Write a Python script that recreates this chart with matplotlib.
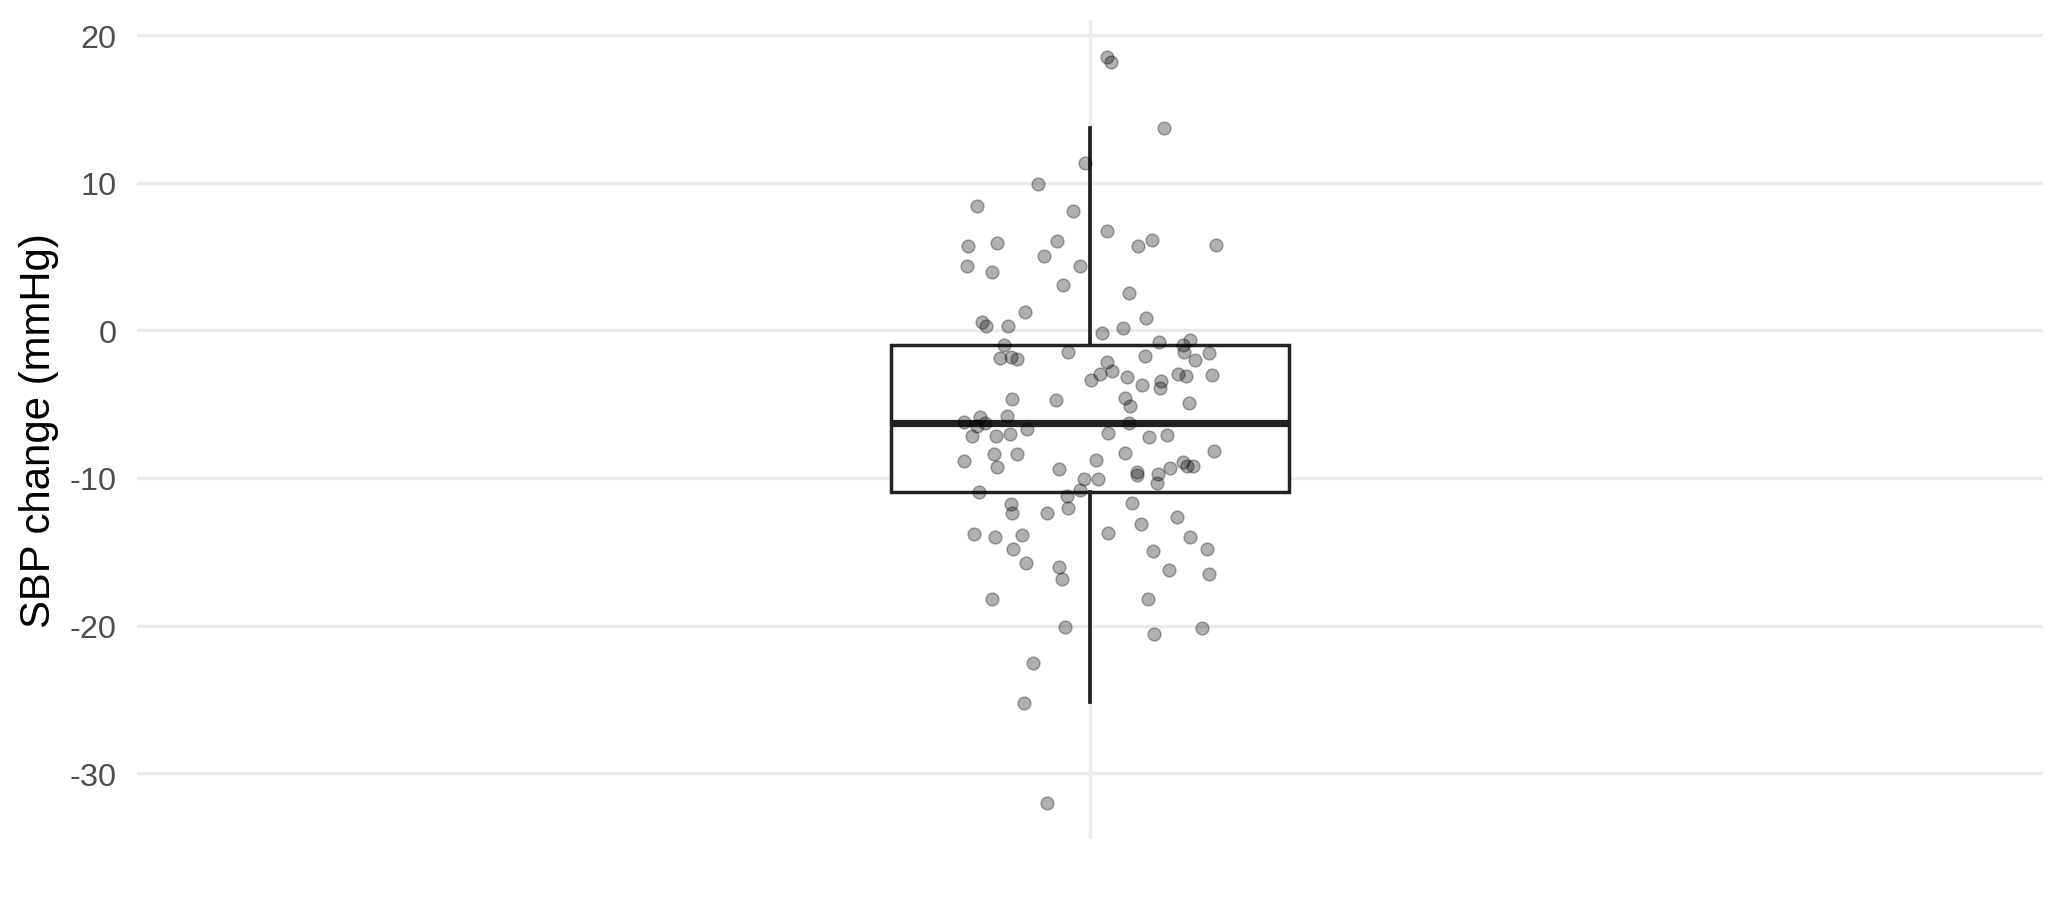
import matplotlib
matplotlib.use("Agg")
import matplotlib.pyplot as plt

plt.rcParams["font.family"] = ["Liberation Sans", "DejaVu Sans"]
plt.rcParams["axes.unicode_minus"] = False

# jittered horizontal offsets (category units) and SBP change values (mmHg)
jitter = [
    0.0109, 0.0130, 0.0468, -0.0030, -0.0325, -0.0713, -0.0109, -0.0768, -0.0583, -0.0208,
    0.0107, 0.0300, 0.0388, 0.0795, -0.0774, -0.0615, -0.0288, -0.0061, -0.0172, 0.0244,
    -0.0409, -0.0682, -0.0655, -0.0518, 0.0076, 0.0210, 0.0352, -0.0539, -0.0566, -0.0497,
    -0.0458, -0.0140, 0.0434, 0.0587, 0.0629, 0.0592, 0.0749, 0.0661, 0.0344, 0.0105,
    0.0138, 0.0065, 0.0008, 0.0231, 0.0329, 0.0447, 0.0439, 0.0552, 0.0602, 0.0770,
    -0.0489, -0.0216, 0.0220, 0.0250, 0.0621, -0.0795, -0.0692, -0.0709, -0.0661, -0.0524,
    -0.0743, -0.0593, -0.0503, -0.0395, 0.0244, 0.0111, 0.0371, 0.0483, -0.0606, -0.0458,
    -0.0793, -0.0587, -0.0197, 0.0038, 0.0218, 0.0778, 0.0587, 0.0612, 0.0650, 0.0503,
    0.0298, 0.0294, 0.0428, 0.0420, -0.0040, 0.0048, -0.0063, -0.0697, -0.0143, -0.0138,
    -0.0497, -0.0493, -0.0272, 0.0266, 0.0549, 0.0323, -0.0730, -0.0598, -0.0426, 0.0111,
    0.0631, -0.0483, 0.0398, 0.0734, -0.0401, -0.0197, -0.0178, 0.0497, 0.0747, -0.0619,
    0.0363, -0.0157, 0.0405, 0.0707, -0.0361, -0.0415, -0.0271,
]
sbp_change = [
    18.53, 18.15, 13.70, 11.33, 9.91, 8.42, 8.10, 5.73, 5.93, 6.05,
    6.71, 5.73, 6.14, 5.80, 4.34, 3.95, 5.05, 4.34, 3.07, 2.51,
    1.22, 0.58, 0.31, 0.31, -0.18, 0.16, 0.81, -0.99, -1.87, -1.83,
    -1.94, -1.49, -0.81, -0.99, -0.68, -1.49, -1.56, -2.01, -1.76, -2.17,
    -2.76, -2.98, -3.34, -3.18, -3.70, -3.43, -3.93, -2.98, -3.07, -3.01,
    -4.65, -4.72, -4.60, -5.15, -4.90, -6.21, -5.87, -6.46, -6.30, -5.80,
    -7.18, -7.14, -7.00, -6.68, -6.28, -6.97, -7.25, -7.07, -8.38, -8.38,
    -8.85, -9.28, -9.37, -8.78, -8.33, -8.15, -8.90, -9.17, -9.21, -9.32,
    -9.62, -9.80, -9.71, -10.36, -10.07, -10.09, -10.79, -10.95, -11.20, -12.03,
    -11.74, -12.37, -12.35, -11.67, -12.62, -13.12, -13.79, -13.98, -13.88, -13.71,
    -14.02, -14.81, -14.92, -14.78, -15.76, -16.05, -16.84, -16.23, -16.50, -18.20,
    -18.22, -20.11, -20.59, -20.18, -22.51, -25.22, -32.01,
]

# box summary as drawn (whisker ends, quartiles, median)
box_stats = {"whislo": -25.15, "q1": -10.94, "med": -6.27, "q3": -1.02, "whishi": 13.70}
y_ticks = [-30, -20, -10, 0, 10, 20]

fig = plt.figure(figsize=(20.64, 9.12), dpi=100)
ax = fig.add_axes([0.06623, 0.07895, 0.92374, 0.89802])

line_col = "#222222"
ax.bxp([dict(box_stats, fliers=[])], positions=[1], widths=0.25,
       showcaps=False, showfliers=False, patch_artist=True,
       boxprops=dict(facecolor="white", edgecolor=line_col, linewidth=2.5),
       whiskerprops=dict(color=line_col, linewidth=2.7),
       medianprops=dict(color=line_col, linewidth=5.2, solid_capstyle="butt"),
       zorder=2)

xs = [1 + j for j in jitter]
ax.scatter(xs, sbp_change, s=85, facecolor=(0, 0, 0, 0.31),
           edgecolor=(0, 0, 0, 0.31), linewidth=1.1, zorder=3)

ax.set_xlim(0.4, 1.6)
ax.set_ylim(-34.45, 21.016)
ax.set_xticks([1])
ax.set_xticklabels([""])
ax.set_yticks(y_ticks)
ax.set_yticklabels([str(t) for t in y_ticks])

ax.grid(True, color="#EBEBEB", linewidth=2.4, zorder=0)
ax.set_axisbelow(True)
for sp in ax.spines.values():
    sp.set_visible(False)
ax.tick_params(axis="both", length=0)
ax.tick_params(axis="y", labelsize=23.4, labelcolor="#4D4D4D", pad=14.4)

ax.set_ylabel("SBP change (mmHg)", fontsize=30.2, color="black", va="baseline")
ax.yaxis.set_label_coords((50 - 136.7) / 1906.6, 0.5)

fig.savefig("out.png", dpi=100, facecolor="white")
